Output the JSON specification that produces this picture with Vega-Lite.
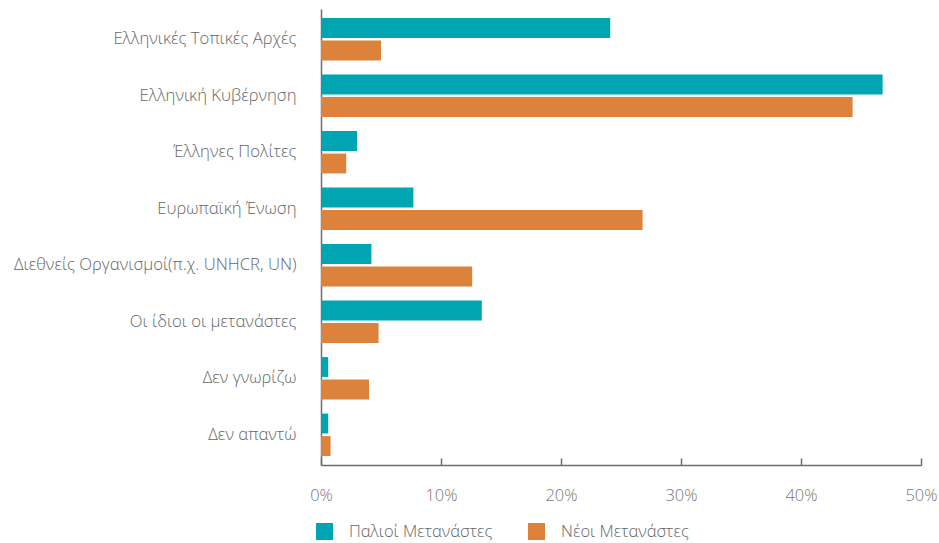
{
  "$schema": "https://vega.github.io/schema/vega-lite/v6.json",
  "width": 600,
  "height": 456,
  "autosize": "none",
  "padding": {"left": 321, "top": 9, "right": 18, "bottom": 78},
  "background": "white",
  "config": {
    "view": {"stroke": null},
    "font": "Open Sans"
  },
  "data": {
    "values": [
      {"category": "Ελληνικές Τοπικές Αρχές", "group": "Παλιοί Μετανάστες", "value": 24.1},
      {"category": "Ελληνικές Τοπικές Αρχές", "group": "Νέοι Μετανάστες", "value": 5.0},
      {"category": "Ελληνική Κυβέρνηση", "group": "Παλιοί Μετανάστες", "value": 46.8},
      {"category": "Ελληνική Κυβέρνηση", "group": "Νέοι Μετανάστες", "value": 44.3},
      {"category": "Έλληνες Πολίτες", "group": "Παλιοί Μετανάστες", "value": 3.0},
      {"category": "Έλληνες Πολίτες", "group": "Νέοι Μετανάστες", "value": 2.1},
      {"category": "Ευρωπαϊκή Ένωση", "group": "Παλιοί Μετανάστες", "value": 7.7},
      {"category": "Ευρωπαϊκή Ένωση", "group": "Νέοι Μετανάστες", "value": 26.8},
      {"category": "Διεθνείς Οργανισμοί(π.χ. UNHCR, UN)", "group": "Παλιοί Μετανάστες", "value": 4.2},
      {"category": "Διεθνείς Οργανισμοί(π.χ. UNHCR, UN)", "group": "Νέοι Μετανάστες", "value": 12.6},
      {"category": "Οι ίδιοι οι μετανάστες", "group": "Παλιοί Μετανάστες", "value": 13.4},
      {"category": "Οι ίδιοι οι μετανάστες", "group": "Νέοι Μετανάστες", "value": 4.8},
      {"category": "Δεν γνωρίζω", "group": "Παλιοί Μετανάστες", "value": 0.6},
      {"category": "Δεν γνωρίζω", "group": "Νέοι Μετανάστες", "value": 4.0},
      {"category": "Δεν απαντώ", "group": "Παλιοί Μετανάστες", "value": 0.6},
      {"category": "Δεν απαντώ", "group": "Νέοι Μετανάστες", "value": 0.8}
    ]
  },
  "mark": {"type": "bar"},
  "encoding": {
    "y": {
      "field": "category",
      "type": "nominal",
      "sort": null,
      "scale": {"paddingInner": 0.25, "paddingOuter": 0.16},
      "axis": {
        "title": null,
        "ticks": false,
        "labelPadding": 25,
        "labelFontSize": 16.7,
        "labelFontWeight": 300,
        "labelColor": "#666666",
        "domainColor": "#6e6e6e",
        "domainWidth": 1.5,
        "labelLimit": 400
      }
    },
    "yOffset": {
      "field": "group",
      "type": "nominal",
      "sort": ["Παλιοί Μετανάστες", "Νέοι Μετανάστες"],
      "scale": {"paddingInner": 0.12}
    },
    "x": {
      "field": "value",
      "type": "quantitative",
      "scale": {"domain": [0, 50]},
      "axis": {
        "title": null,
        "values": [0, 10, 20, 30, 40, 50],
        "labelExpr": "datum.value + '%'",
        "labelFlush": false,
        "grid": false,
        "tickSize": -7,
        "tickColor": "#6e6e6e",
        "tickWidth": 1.5,
        "domainColor": "#6e6e6e",
        "domainWidth": 1.5,
        "labelPadding": 29,
        "labelFontSize": 16.5,
        "labelFontWeight": 300,
        "labelColor": "#777777"
      }
    },
    "color": {
      "field": "group",
      "type": "nominal",
      "scale": {
        "domain": ["Παλιοί Μετανάστες", "Νέοι Μετανάστες"],
        "range": ["#00A5B1", "#DD823B"]
      },
      "legend": {
        "title": null,
        "orient": "none",
        "direction": "horizontal",
        "legendX": -5,
        "legendY": 514,
        "symbolType": "square",
        "symbolSize": 289,
        "symbolStrokeWidth": 0,
        "labelFontSize": 16.5,
        "labelFontWeight": 300,
        "labelColor": "#666666",
        "labelOffset": 16,
        "columnPadding": 35,
        "labelLimit": 300
      }
    }
  }
}
